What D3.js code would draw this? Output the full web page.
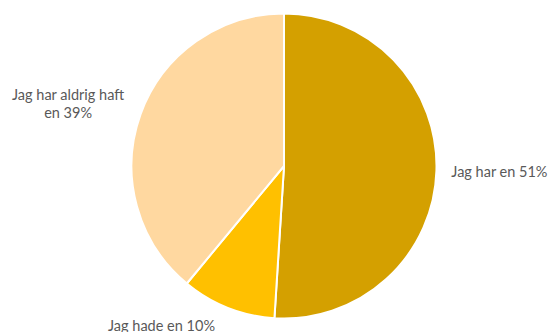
<!DOCTYPE html>
<html>
<head>
<meta charset="utf-8">
<script src="https://cdn.jsdelivr.net/npm/d3@7"></script>
<style>
  html, body { margin: 0; padding: 0; background: #fff; }
  svg { display: block; }
  text { font-family: Lato, "Open Sans", sans-serif; fill: #595959; }
</style>
</head>
<body>
<svg id="chart" width="549" height="332"></svg>
<script>
// Survey answers and their shares (%)
const categories = ["Jag har en", "Jag hade en", "Jag har aldrig haft"];
const shares = [51, 10, 39];
const colors = ["#D4A000", "#FFC000", "#FFD8A0"];
// Label lines per slice
const labelLines = [["Jag har en 51%"], ["Jag hade en 10%"], ["Jag har aldrig haft", "en 39%"]];

const W = 549, H = 332;
const cx = 284, cy = 166, R = 152.5;

const svg = d3.select("#chart");
const g = svg.append("g").attr("transform", `translate(${cx},${cy})`);

const pie = d3.pie().sort(null).value(d => d.v);
const arcs = pie(categories.map((c, i) => ({ c, v: shares[i], i })));
const arc = d3.arc().innerRadius(0).outerRadius(R);

g.selectAll("path.slice")
  .data(arcs)
  .join("path")
  .attr("class", "slice")
  .attr("d", arc)
  .attr("fill", d => colors[d.data.i])
  .attr("stroke", "#fff")
  .attr("stroke-width", 2)
  .attr("stroke-linejoin", "round");

// Label anchors outside the pie along each slice's mid-angle, with nudges
const labelPos = [
  { r: R + 63, dx: 0, dy: -1 },
  { r: R + 20, dx: -59, dy: 0 },
  { r: R + 77, dx: 0, dy: 16 }
];
const fontSize = 14.5, lineH = 18;

arcs.forEach((a, k) => {
  const mid = (a.startAngle + a.endAngle) / 2;
  const lp = labelPos[k];
  const x = Math.sin(mid) * lp.r + lp.dx;
  const y = -Math.cos(mid) * lp.r + lp.dy;
  const lines = labelLines[k];
  const t = g.append("text")
    .attr("text-anchor", "middle")
    .attr("font-size", fontSize);
  lines.forEach((ln, j) => {
    t.append("tspan")
      .attr("x", x)
      .attr("y", y + (j - (lines.length - 1) / 2) * lineH)
      .attr("dy", "0.35em")
      .text(ln);
  });
});
</script>
</body>
</html>
